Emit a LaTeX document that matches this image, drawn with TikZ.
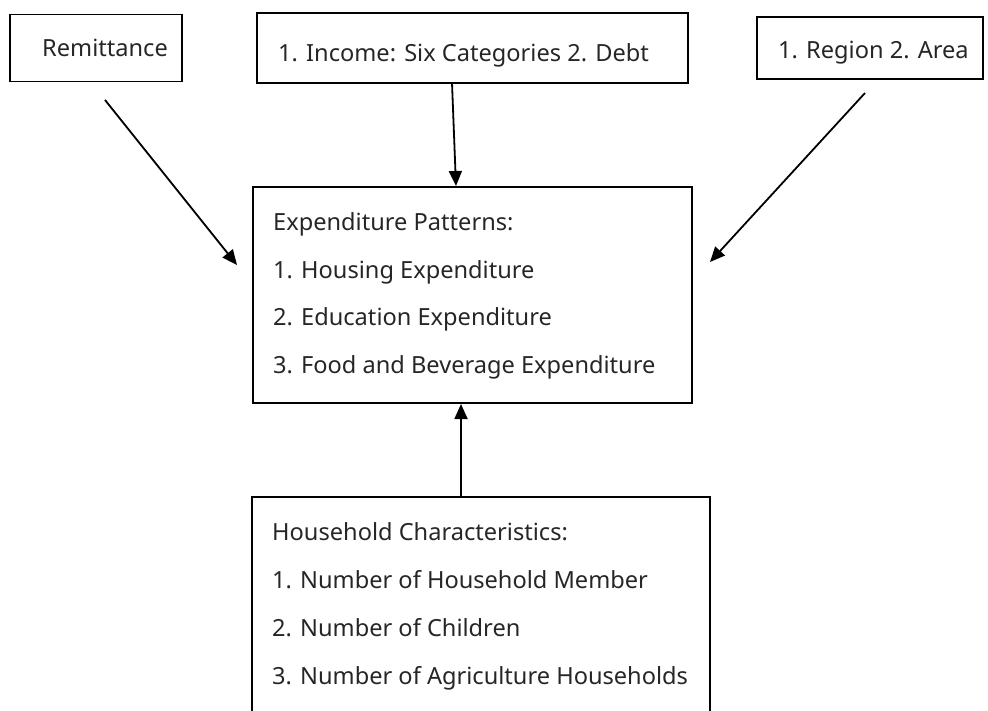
\documentclass[tikz,border=0pt]{standalone}
\usepackage{fontspec}
\setmainfont{Noto Sans}
\usetikzlibrary{arrows.meta}
\begin{document}
\begin{tikzpicture}[x=1pt,y=-1pt,
  box/.style={draw=black, line width=1.7pt, inner sep=0pt},
  lbl/.style={anchor=base west, inner sep=0pt, font=\fontsize{23.6}{28}\selectfont, text=black!85},
  conn/.style={line width=1.8pt, -{Triangle[length=15pt,width=13pt]}}]
\useasboundingbox (0,0) rectangle (988,711);
\clip (0,0) rectangle (988,711);
% boxes
\node[box, minimum width=172pt, minimum height=67pt] (rem) at (96,48) {};
\node[box, minimum width=431pt, minimum height=70pt] (inc) at (472.5,48) {};
\node[box, minimum width=226pt, minimum height=62pt] (reg) at (870,48) {};
\node[box, minimum width=439pt, minimum height=216pt] (exp) at (472.5,295) {};
\node[box, minimum width=458pt, minimum height=240pt] (hh) at (481,617) {};
% texts
\node[lbl] (t1) at (42,57) {Remittance};
\node[lbl] (t2) at (278,62) {1. Income: Six Categories 2. Debt};
\node[lbl] (t3) at (778,59) {1. Region 2. Area};
\node[lbl] (e0) at (273,231) {Expenditure Patterns:};
\node[lbl] (e1) at (273,279) {1. Housing Expenditure};
\node[lbl] (e2) at (273,326) {2. Education Expenditure};
\node[lbl] (e3) at (273,373) {3. Food and Beverage Expenditure};
\node[lbl] (h0) at (272,540) {Household Characteristics:};
\node[lbl] (h1) at (272,588) {1. Number of Household Member};
\node[lbl] (h2) at (272,636) {2. Number of Children};
\node[lbl] (h3) at (272,684) {3. Number of Agriculture Households};
% connector ends
\coordinate (remS) at (105,100);
\coordinate (remE) at (237,265);
\coordinate (incS) at (452,83);
\coordinate (incE) at (456,186);
\coordinate (regS) at (865,93);
\coordinate (regE) at (710,262);
\coordinate (hhS) at (461,497);
\coordinate (hhE) at (461,404);
\draw[conn] (remS) -- (remE);
\draw[conn] (incS) -- (incE);
\draw[conn] (regS) -- (regE);
\draw[conn] (hhS) -- (hhE);
\end{tikzpicture}
\end{document}
